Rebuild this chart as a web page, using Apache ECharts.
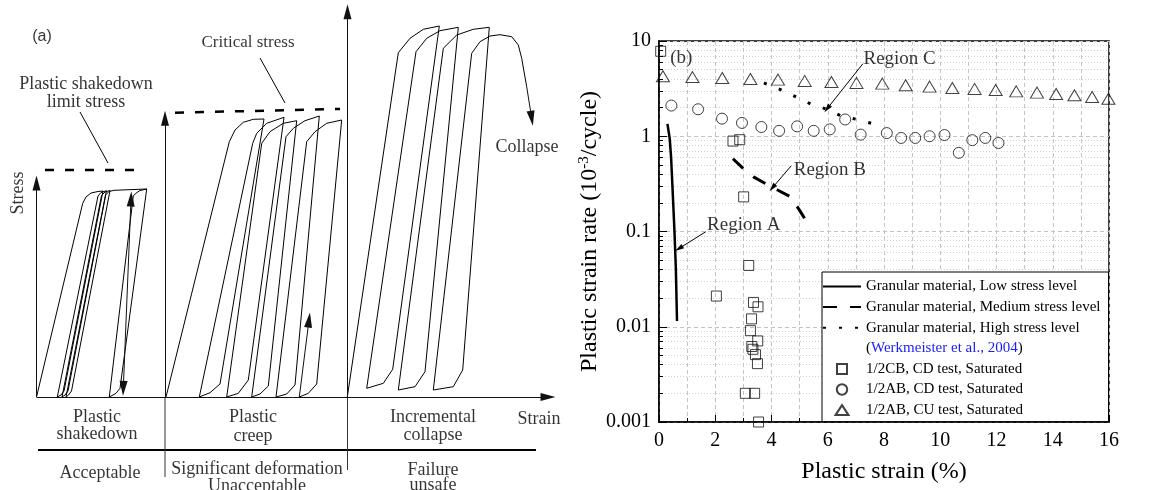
<!DOCTYPE html>
<html><head><meta charset="utf-8">
<script src="https://cdn.jsdelivr.net/npm/echarts@6/dist/echarts.min.js"></script>
<style>html,body{margin:0;padding:0;background:#fff}#c{width:1150px;height:490px}</style>
</head><body><div id="c"></div><script>
const SERIF = '"Liberation Serif","Times New Roman",serif';
const SANS = '"Liberation Sans",Arial,sans-serif';

// ---------------- Panel (b) data ----------------
const xTickLabels = ['0','2','4','6','8','10','12','14','16'];
const yTickLabels = ['0.001','0.01','0.1','1','10'];

const cbCD_x = [0.06,2.63,2.87,3.01,3.19,2.04,3.36,3.52,3.29,3.25,3.51,3.30,3.34,3.43,3.50,3.07,3.40,3.54];
const cbCD_y = [7.8,0.89,0.92,0.231,0.044,0.021,0.018,0.0162,0.0121,0.0091,0.0071,0.0062,0.0058,0.0051,0.0041,0.002,0.002,0.001];

const abCD_x = [0.44,1.39,2.24,2.95,3.64,4.27,4.91,5.50,6.07,6.62,7.17,8.10,8.61,9.11,9.62,10.15,10.66,11.14,11.60,12.07];
const abCD_y = [2.10,1.92,1.53,1.38,1.25,1.14,1.27,1.14,1.18,1.50,1.04,1.08,0.96,0.96,1.00,1.03,0.67,0.91,0.96,0.85];

const abCU_x = [0.14,1.19,2.25,3.25,4.23,5.18,6.13,7.02,7.94,8.77,9.62,10.43,11.22,11.97,12.70,13.44,14.12,14.77,15.40,15.98];
const abCU_y = [4.26,4.18,4.09,3.99,3.93,3.81,3.71,3.63,3.57,3.43,3.32,3.21,3.14,3.06,2.96,2.87,2.78,2.69,2.58,2.48];

const low_x = [0.30,0.38,0.43,0.49,0.55,0.60,0.64];
const low_y = [1.35,0.95,0.60,0.25,0.10,0.04,0.0115];
const med_x = [2.63,2.99,3.36,3.78,4.23,4.64,4.96,5.18];
const med_y = [0.58,0.46,0.374,0.319,0.271,0.235,0.174,0.137];
const high_x = [3.73,4.32,4.88,5.41,5.97,6.50,7.01,7.58];
const high_y = [3.63,3.09,2.59,2.17,1.92,1.62,1.51,1.36];

const annotTexts = [
  {name:'(b)', value:[0.40,6.68]},
  {name:'Region A', value:[1.71,0.1165]},
  {name:'Region B', value:[4.79,0.447]},
  {name:'Region C', value:[7.27,6.53]}
];
const annotArrows = [
  [[1.66,0.0993],[0.71,0.0663]],
  [[4.70,0.489],[4.03,0.287]],
  [[7.25,5.78],[5.98,1.95]]
];

// ---------------- Panel (a) schematic (strain units, stress units above baseline) ----------------
const shakedownPath = [[36.5,0],[82.7,193.7],[86,200],[91,204],[98,205.5],[103,206],[64,6],[61,2],[57.3,0],
  [98,201],[101,204.5],[106.5,206.3],[68,6],[65,2],[62,0],
  [101.5,201.5],[105,205],[110,206.5],[71.5,6],[68.5,2],[66,0],
  [105.5,202],[109,205.5],[114,206.7],[146.7,208],[120,8.7],[116,3.7],[109.3,0],
  [133.3,201.3],[137,204.5],[140,206.5],[146.7,208]];
const creepPath = [[166,0],[229.3,255.3],[235,267],[243.3,274.7],[253.3,277.7],[264,278],[220,13],[210,4.3],[199.3,0],
  [252.7,253.7],[256.7,263.7],[266.7,273.7],[284,279.7],[248.3,17],[238.3,3.7],[226.7,0],
  [261.7,253.7],[270,265.3],[283.3,273.7],[296.7,276.3],[268.3,11],[260,3],[251.7,0],
  [286,260.3],[293.3,268.7],[305,276.3],[319.3,281],[295,12],[286.7,3],[276,0],
  [306.7,255.3],[315,265.3],[326.7,273.7],[341.7,277],[316.7,13],[308.3,3.7],[299.3,0]];
const collapsePath = [[347.3,0],[398.3,344.3],[410,358.7],[423.3,367.7],[439.3,371],[392.7,27.7],[383.3,13.7],[366.7,8.7],
  [416,345.3],[426.7,358.7],[440,366.3],[458.3,369.7],[425,25.3],[415,10.3],[398.3,7],
  [443.3,348.7],[456.7,362],[473.3,367.7],[489.3,369.7],[462.7,27],[453.3,10.3],[433.3,7],
  [471.7,343.7],[480,355.3],[490,361],[500,362.3],[511.7,360.3],[518.3,352],[521.7,338.7],[526.7,310.3]];
const leaderLines = [[[80,285],[108,234]],[[260,339],[285,294]]];
const limitLines = [[[45,227],[145,227]],[[175,284.3],[340,288]]];
const dividerLine = [[38,-53],[536,-53]];
const plainSeparators = [[[165,0],[165,-80]],[[347.5,0],[347.5,-73]]];
const arrowLines = [
  [[36.5,0],[36.5,214]],
  [[165,0],[165,278.7]],
  [[347.5,0],[347.5,385.3]],
  [[36.5,0],[548,0]],
  [[299.3,0],[309,77]],
  [[526.7,310.3],[531.7,278.7]]
];
const doubleArrow = [[123.3,8.7],[131,198]];
const schematicLabels = [
  {name:'(a)', value:[42,360], font:SANS, size:16},
  {name:'Plastic shakedown', value:[86,313]},
  {name:'limit stress', value:[86,295]},
  {name:'Critical stress', value:[248,354], size:17},
  {name:'Stress', value:[18,204], rotate:90},
  {name:'Collapse', value:[527,250]},
  {name:'Strain', value:[539,-22]},
  {name:'Plastic', value:[97,-20]}, {name:'shakedown', value:[97,-37]},
  {name:'Plastic', value:[253,-20]}, {name:'creep', value:[253,-39]},
  {name:'Incremental', value:[433,-20]}, {name:'collapse', value:[433,-38]},
  {name:'Acceptable', value:[100,-76]},
  {name:'Significant deformation', value:[257,-72]}, {name:'Unacceptable', value:[257,-89]},
  {name:'Failure', value:[433,-73]}, {name:'unsafe', value:[433,-88]}
];

// ---------------- names ----------------
const LOW = 'Granular material, Low stress level';
const MED = 'Granular material, Medium stress level';
const HIGH = 'Granular material, High stress level';
const WERK = '(Werkmeister et al., 2004)';
const CB = '1/2CB, CD test, Saturated';
const ABCD = '1/2AB, CD test, Saturated';
const ABCU = '1/2AB, CU test, Saturated';

// legend icon shapes (centred inside the 38x11 legend icon box so they keep their aspect)
const ICON_SQUARE = 'path://M0,0M38,11M14,0.5L24,0.5L24,10.5L14,10.5Z';
const ICON_CIRCLE = 'path://M0,0M38,11M24.2,5.5A5.2,5.2,0,1,1,13.8,5.5A5.2,5.2,0,1,1,24.2,5.5Z';
const ICON_TRIANGLE = 'path://M0,0M38,11M19,0.5L25.5,10.5L12.5,10.5Z';

const zip = (xs, ys) => xs.map((x, i) => [x, ys[i]]);

const chart = echarts.init(document.getElementById('c'), null, {renderer:'canvas'});

const schemLine = (data, extra) => Object.assign({
  type:'line', xAxisIndex:1, yAxisIndex:1, data, symbol:'none', silent:true, clip:false,
  lineStyle:{color:'#000', width:1}, z:3
}, extra || {});

const hollow = {color:'rgba(0,0,0,0)', borderColor:'#111', borderWidth:1};
const noDot = {color:'#000', opacity:0};

const series = [
  // panel (b)
  {name:LOW, type:'line', data:zip(low_x, low_y), symbol:'none', itemStyle:noDot, lineStyle:{color:'#000', width:2.5}, z:4},
  {name:MED, type:'line', data:zip(med_x, med_y), symbol:'none', itemStyle:noDot, lineStyle:{color:'#000', width:3, type:[14,13]}, z:4},
  {name:HIGH, type:'line', data:zip(high_x, high_y), symbol:'none', itemStyle:noDot, lineStyle:{color:'#000', width:3, type:[3,13]}, z:4},
  {name:WERK, type:'line', data:[], symbol:'none', lineStyle:{color:'rgba(0,0,0,0)'}, itemStyle:{color:'rgba(0,0,0,0)', opacity:0}},
  {name:CB, type:'scatter', data:zip(cbCD_x, cbCD_y), symbol:'rect', symbolSize:10, clip:false, itemStyle:hollow, z:5},
  {name:ABCD, type:'scatter', data:zip(abCD_x, abCD_y), symbol:'circle', symbolSize:11, clip:false, itemStyle:hollow, z:5},
  {name:ABCU, type:'scatter', data:zip(abCU_x, abCU_y), symbol:'triangle', symbolSize:[13,11], clip:false, itemStyle:hollow, z:5},
  {type:'scatter', data:annotTexts, symbolSize:0.1, silent:true, clip:false, itemStyle:{color:'rgba(0,0,0,0)'},
    label:{show:true, position:'inside', align:'left', verticalAlign:'middle', formatter:'{b}', fontFamily:SERIF, fontSize:19, color:'#000'}, z:6},
  {type:'line', data:[], silent:true,
    markLine:{silent:true, symbol:['none','triangle'], symbolSize:[5,9], label:{show:false},
      lineStyle:{color:'#000', width:1, type:'solid'},
      data: annotArrows.map(a => [{coord:a[0]}, {coord:a[1]}])}, z:6},
  // panel (a)
  schemLine(shakedownPath),
  schemLine(creepPath),
  schemLine(collapsePath),
  ...leaderLines.map(l => schemLine(l)),
  ...limitLines.map(l => schemLine(l, {lineStyle:{color:'#000', width:2.5, type:[9,11]}})),
  schemLine(dividerLine, {lineStyle:{color:'#000', width:2.2}}),
  ...plainSeparators.map(l => schemLine(l, {lineStyle:{color:'#333', width:1}})),
  {type:'line', xAxisIndex:1, yAxisIndex:1, data:[], silent:true,
    markLine:{silent:true, symbol:['none','triangle'], symbolSize:[8,15], label:{show:false},
      lineStyle:{color:'#111', width:1, type:'solid'},
      data: arrowLines.map(a => [{coord:a[0]}, {coord:a[1]}]).concat([
        [{coord:doubleArrow[0], symbol:'triangle', symbolSize:[8,15]}, {coord:doubleArrow[1]}]
      ])}},
  {type:'scatter', xAxisIndex:1, yAxisIndex:1, silent:true, clip:false, symbolSize:0.1,
    itemStyle:{color:'rgba(0,0,0,0)'},
    data: schematicLabels.map(d => ({name:d.name, value:d.value,
      label:{rotate:d.rotate || 0, fontFamily:d.font || SERIF, fontSize:d.size || 18}})),
    label:{show:true, position:'inside', formatter:'{b}', color:'#000', fontFamily:SERIF, fontSize:18,
      align:'center', verticalAlign:'middle'}}
];

const option = {
  animation:false,
  backgroundColor:'#fff',
  grid:[
    {left:659, right:41, top:41, bottom:68, show:true, borderColor:'#000', borderWidth:1.5, backgroundColor:'rgba(0,0,0,0)'},
    {left:0, top:0, width:1150, height:490, show:false}
  ],
  xAxis:[
    {type:'value', gridIndex:0, min:0, max:16, interval:2,
      axisLine:{show:true, lineStyle:{color:'#000', width:1.5}},
      axisTick:{show:true, inside:true, length:7, lineStyle:{color:'#000', width:1}},
      minorTick:{show:true, splitNumber:2, length:4, lineStyle:{color:'#000', width:1}},
      splitLine:{show:true, lineStyle:{color:'#c4c4c4', width:1, type:[4,3]}},
      minorSplitLine:{show:true, lineStyle:{color:'#c4c4c4', width:1, type:[4,3]}},
      axisLabel:{color:'#000', fontFamily:SERIF, fontSize:20, margin:9, formatter:v => xTickLabels[Math.round(v/2)]},
      name:'Plastic strain (%)', nameLocation:'middle', nameGap:38,
      nameTextStyle:{color:'#000', fontFamily:SERIF, fontSize:24}},
    {type:'value', gridIndex:1, min:0, max:1150, show:false}
  ],
  yAxis:[
    {type:'log', logBase:10, gridIndex:0, min:0.001, max:10,
      axisLine:{show:true, lineStyle:{color:'#000', width:1.5}},
      axisTick:{show:true, inside:true, length:8, lineStyle:{color:'#000', width:1}},
      minorTick:{show:true, splitNumber:9, length:4, lineStyle:{color:'#000', width:1}},
      splitLine:{show:true, lineStyle:{color:'#c4c4c4', width:1, type:[4,3]}},
      minorSplitLine:{show:true, lineStyle:{color:'#d2d2d2', width:1, type:[1,2]}},
      axisLabel:{color:'#000', fontFamily:SERIF, fontSize:20, margin:8,
        formatter:v => yTickLabels[Math.round(Math.log10(v)) + 3]},
      name:'{n|Plastic strain rate (10}{s|-3}{n|/cycle)}', nameLocation:'middle', nameGap:54,
      nameTextStyle:{color:'#000', fontFamily:SERIF, fontSize:24,
        rich:{n:{fontFamily:SERIF, fontSize:24, color:'#000', lineHeight:28},
              s:{fontFamily:SERIF, fontSize:15, color:'#000', verticalAlign:'top', lineHeight:14}}}},
    {type:'value', gridIndex:1, min:-93, max:397, show:false}
  ],
  legend:{
    orient:'vertical', left:822, top:272, itemWidth:38, itemHeight:11, itemGap:5.6,
    padding:[7,8,4,0], borderColor:'#000', borderWidth:1, backgroundColor:'#fff',
    selectedMode:false, symbolKeepAspect:true,
    data:[
      {name:LOW, itemStyle:{opacity:0}},
      {name:MED, itemStyle:{opacity:0}},
      {name:HIGH, itemStyle:{opacity:0}},
      {name:WERK, icon:'rect', itemStyle:{opacity:0}, lineStyle:{opacity:0}},
      {name:CB, icon:ICON_SQUARE},
      {name:ABCD, icon:ICON_CIRCLE},
      {name:ABCU, icon:ICON_TRIANGLE}],
    formatter: name => name === WERK ? '{k|(}{w|Werkmeister et al., 2004}{k|)}' : name,
    textStyle:{color:'#000', fontFamily:SERIF, fontSize:15, lineHeight:15,
      rich:{k:{color:'#000', fontFamily:SERIF, fontSize:15}, w:{color:'#1a1aff', fontFamily:SERIF, fontSize:15}}}
  },
  series
};
chart.setOption(option);
</script></body></html>
